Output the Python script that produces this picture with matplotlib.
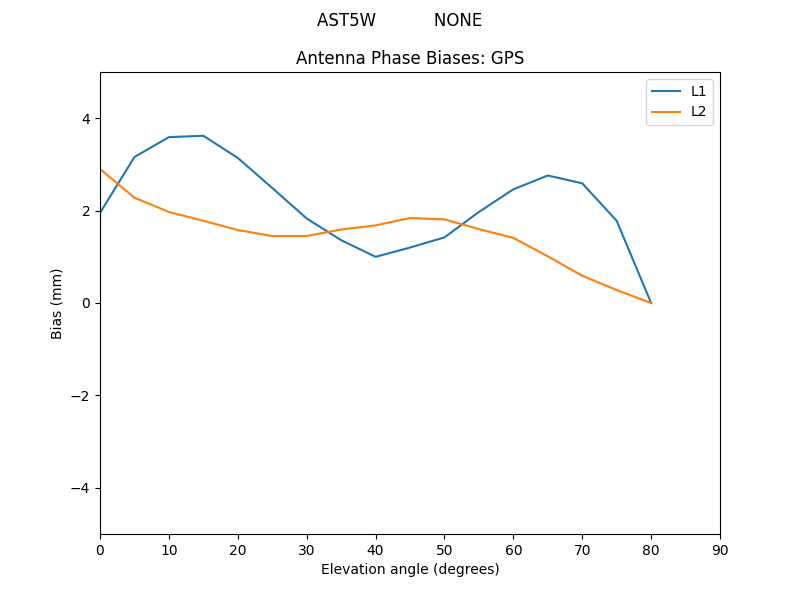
import matplotlib
matplotlib.use("Agg")
import matplotlib.pyplot as plt

elev = [0, 5, 10, 15, 20, 25, 30, 35, 40, 45, 50, 55, 60, 65, 70, 75, 80]
bias_l1 = [1.95, 3.16, 3.59, 3.62, 3.14, 2.49, 1.83, 1.36, 1.00, 1.20, 1.42,
           1.97, 2.46, 2.76, 2.59, 1.78, 0.0]
bias_l2 = [2.90, 2.28, 1.97, 1.78, 1.58, 1.45, 1.45, 1.59, 1.68, 1.84, 1.81,
           1.60, 1.41, 1.01, 0.59, 0.28, 0.0]

antenna = "AST5W           NONE"

fig, ax = plt.subplots(figsize=(8, 6), dpi=100)
fig.suptitle(antenna)

ax.plot(elev, bias_l1, label="L1")
ax.plot(elev, bias_l2, label="L2")

ax.set_title("Antenna Phase Biases: GPS")
ax.set_xlabel("Elevation angle (degrees)")
ax.set_ylabel("Bias (mm)")
ax.set_xlim(0, 90)
ax.set_ylim(-5, 5)
ax.legend(loc="upper right")

fig.savefig("out.png")
